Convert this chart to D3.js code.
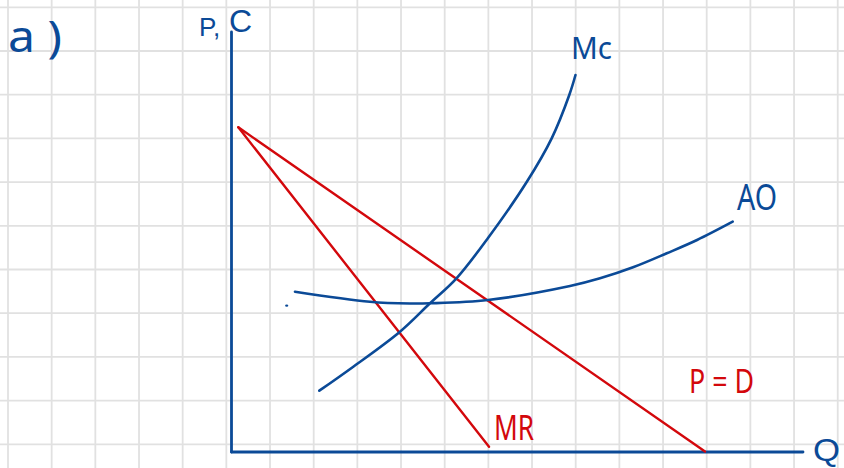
<!DOCTYPE html>
<html>
<head>
<meta charset="utf-8">
<script src="https://cdn.jsdelivr.net/npm/d3@7"></script>
<style>
  html, body { margin: 0; padding: 0; background: #ffffff; }
  svg { display: block; }
  text { font-family: "Noto Sans", "DejaVu Sans", sans-serif; }
</style>
</head>
<body>
<svg id="chart" width="844" height="468"></svg>
<script>
// ---- data (Q in grid units, P/C in grid units) ----
const demand = [[0.156, 7.43], [10.843, 0.011]];
const marginalRevenue = [[0.156, 7.43], [5.897, 0.121]];
const marginalCost = [
  [2.011, 1.403], [2.789, 1.952], [3.858, 2.753], [4.545, 3.403],
  [5.152, 3.975], [5.874, 4.897], [6.760, 6.178], [7.332, 7.178],
  [7.735, 8.169], [7.877, 8.627]
];
const averageCost = [
  [1.454, 3.668], [3.171, 3.439], [4.087, 3.398], [4.545, 3.403],
  [5.874, 3.478], [7.752, 3.799], [8.439, 3.975], [9.195, 4.227],
  [9.967, 4.547], [10.661, 4.851], [11.477, 5.270]
];
const strayDot = [[1.264, 3.348]];
const axisMax = { q: 13.087, p: 9.611 };
const gridX = d3.range(-5.118, 14.5, 1);
const gridY = d3.range(10.176, -1, -1);
const labels = { title: "a )", yAxis: ["P, ", "C"], xAxis: "Q", mc: "Mc", ac: "AO", d: "P = D", mr: "MR" };

// ---- styles ----
const BLUE = "#0b4a97";
const RED = "#d3080c";
const GRID = "#e1e1e1";

const svg = d3.select("#chart");
const W = 844, H = 468;

const x = d3.scaleLinear().domain([0, axisMax.q]).range([231.5, 803]);
const y = d3.scaleLinear().domain([0, axisMax.p]).range([452, 32]);

// grid paper
const grid = svg.append("g");
grid.selectAll("line.v").data(gridX).join("line")
  .attr("x1", d => x(d)).attr("x2", d => x(d))
  .attr("y1", 0).attr("y2", H)
  .attr("stroke", GRID).attr("stroke-width", 1.8);
grid.selectAll("line.h").data(gridY).join("line")
  .attr("y1", d => y(d)).attr("y2", d => y(d))
  .attr("x1", 0).attr("x2", W)
  .attr("stroke", GRID).attr("stroke-width", 1.8);

// axes
svg.append("line")
  .attr("x1", x(0)).attr("x2", x(0)).attr("y1", y(axisMax.p)).attr("y2", y(0))
  .attr("stroke", BLUE).attr("stroke-width", 2.8).attr("stroke-linecap", "round");
svg.append("line")
  .attr("x1", x(0)).attr("x2", x(axisMax.q)).attr("y1", y(0)).attr("y2", y(0))
  .attr("stroke", BLUE).attr("stroke-width", 2.8).attr("stroke-linecap", "round");

const straight = d3.line().x(d => x(d[0])).y(d => y(d[1]));
const smooth = d3.line().x(d => x(d[0])).y(d => y(d[1])).curve(d3.curveCatmullRom.alpha(0.5));

svg.append("path").attr("d", straight(demand))
  .attr("fill", "none").attr("stroke", RED).attr("stroke-width", 2.4).attr("stroke-linecap", "round");
svg.append("path").attr("d", straight(marginalRevenue))
  .attr("fill", "none").attr("stroke", RED).attr("stroke-width", 2.4).attr("stroke-linecap", "round");
svg.append("path").attr("d", smooth(averageCost))
  .attr("fill", "none").attr("stroke", BLUE).attr("stroke-width", 2.6).attr("stroke-linecap", "round");
svg.append("path").attr("d", smooth(marginalCost))
  .attr("fill", "none").attr("stroke", BLUE).attr("stroke-width", 2.6).attr("stroke-linecap", "round");
svg.selectAll("ellipse.dot").data(strayDot).join("ellipse")
  .attr("cx", d => x(d[0])).attr("cy", d => y(d[1]))
  .attr("rx", 1.6).attr("ry", 1.1).attr("fill", BLUE);

// labels
function label(txt, px, py, size, color, len, family) {
  const t = svg.append("text").attr("x", px).attr("y", py)
    .attr("font-size", size).attr("fill", color).text(txt);
  if (len) t.attr("textLength", len).attr("lengthAdjust", "spacingAndGlyphs");
  if (family) t.style("font-family", family);
  return t;
}
label(labels.title, 8, 52, 44, BLUE, 54);
const yl = svg.append("text").attr("fill", BLUE).style("font-family", "'Liberation Sans', Arial, sans-serif");
yl.append("tspan").attr("x", 199).attr("y", 36).attr("font-size", 26).text(labels.yAxis[0]);
yl.append("tspan").attr("x", 229).attr("y", 32).attr("font-size", 32).text(labels.yAxis[1]);
label(labels.mc, 571, 59, 30, BLUE, 41);
label(labels.ac, 737, 210, 37, BLUE, 40);
label(labels.d, 689, 393, 33, RED, 65);
label(labels.mr, 494, 440, 34, RED, 40);
label(labels.xAxis, 813, 461, 32, BLUE, 27, "'Liberation Sans', Arial, sans-serif");
</script>
</body>
</html>
